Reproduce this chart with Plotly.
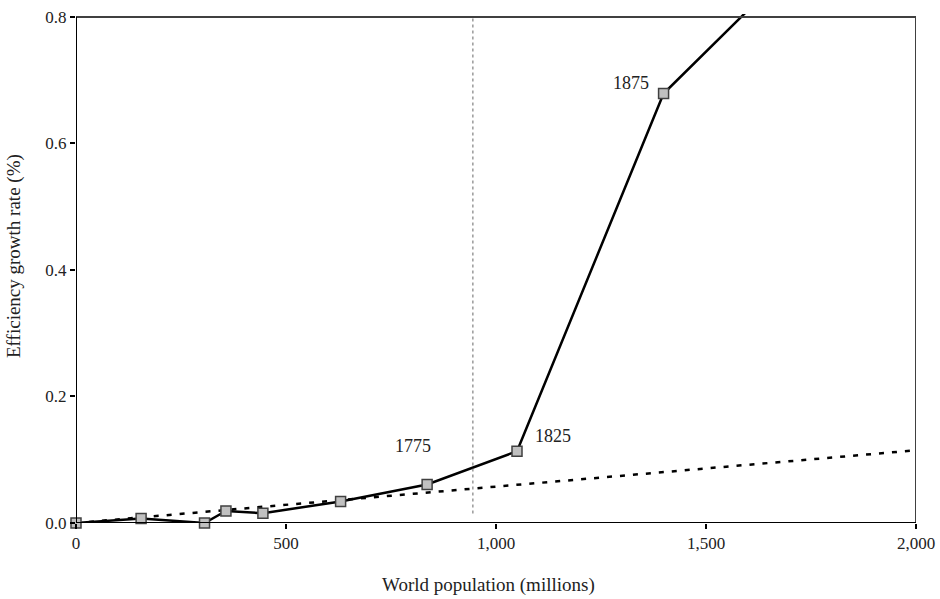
import plotly.graph_objects as go

# Data
population = [0, 155, 306, 357, 445, 630, 836, 1050, 1399, 1950]
growth = [0, 0.007, 0, 0.019, 0.0155, 0.034, 0.061, 0.1135, 0.679, 1.04]
n_marked = 9  # last point lies above the visible range

trend_x = [0, 2000]
trend_y = [0, 0.115]

year_labels = ["1775", "1825", "1875"]
year_index = [6, 7, 8]
label_shift = [(-14, 38), (36, 15), (-33, 11)]

divider_x = 945

x_ticks = [0, 500, 1000, 1500, 2000]
y_ticks = [0.0, 0.2, 0.4, 0.6, 0.8]

font_name = "Liberation Serif"

fig = go.Figure()

# dotted trend line
fig.add_trace(go.Scatter(x=trend_x, y=trend_y, mode='lines',
                         line=dict(color='black', width=2.5, dash='5px,8px'),
                         hoverinfo='skip'))

# main series line
fig.add_trace(go.Scatter(x=population, y=growth, mode='lines',
                         line=dict(color='black', width=2.5)))

# square markers
fig.add_trace(go.Scatter(x=population[:n_marked], y=growth[:n_marked], mode='markers',
                         marker=dict(symbol='square', size=10, color='#c0c0c0',
                                     line=dict(color='#404040', width=1.5)),
                         cliponaxis=False))

# year labels
for lab, idx, (dx, dy) in zip(year_labels, year_index, label_shift):
    fig.add_annotation(x=population[idx], y=growth[idx], text=lab, showarrow=False,
                       xshift=dx, yshift=dy, font=dict(family=font_name, size=18, color='#222'))

# vertical dotted divider
fig.add_shape(type='line', x0=divider_x, x1=divider_x, y0=0.015, y1=0.8,
              line=dict(color='#666', width=1, dash='dot'))

# frame
fig.add_shape(type='line', x0=0, x1=2000, y0=0.8, y1=0.8, line=dict(color='#404040', width=2))
fig.add_shape(type='line', x0=2000, x1=2000, y0=0, y1=0.8, line=dict(color='#404040', width=2))
fig.add_shape(type='line', x0=0, x1=0, y0=0, y1=0.8, line=dict(color='black', width=2))
fig.add_shape(type='line', x0=0, x1=2000, y0=0, y1=0, line=dict(color='black', width=2))

# axis titles
fig.add_annotation(xref='paper', yref='paper', x=0.4905, y=-0.1218, text='World population (millions)',
                   showarrow=False, xanchor='center', yanchor='middle',
                   font=dict(family=font_name, size=19, color='#222'))
fig.add_annotation(xref='paper', yref='paper', x=-0.0738, y=0.5246, text='Efficiency growth rate (%)',
                   showarrow=False, textangle=-90, xanchor='center', yanchor='middle',
                   font=dict(family=font_name, size=19, color='#222'))

fig.update_layout(
    width=940, height=599,
    margin=dict(l=76, r=24, t=14, b=76, autoexpand=False),
    plot_bgcolor='white', paper_bgcolor='white',
    showlegend=False,
    font=dict(family=font_name, size=17, color='#222'),
)
fig.update_xaxes(range=[0, 2000], tickvals=x_ticks, tickformat=',d',
                 ticks='outside', ticklen=5, tickwidth=2, tickcolor='black',
                 ticklabeloverflow='allow',
                 showgrid=False, zeroline=False, showline=False, automargin=False)
fig.update_yaxes(range=[0, 0.8047], tickvals=y_ticks, tickformat='.1f',
                 ticks='outside', ticklen=5, tickwidth=2, tickcolor='black',
                 ticklabeloverflow='allow',
                 showgrid=False, zeroline=False, showline=False, automargin=False)

# drop the default page margin so the figure fills the window exactly
fig.write_html("out.html", config={'displayModeBar': False},
               post_script="document.body.style.margin='0';")
